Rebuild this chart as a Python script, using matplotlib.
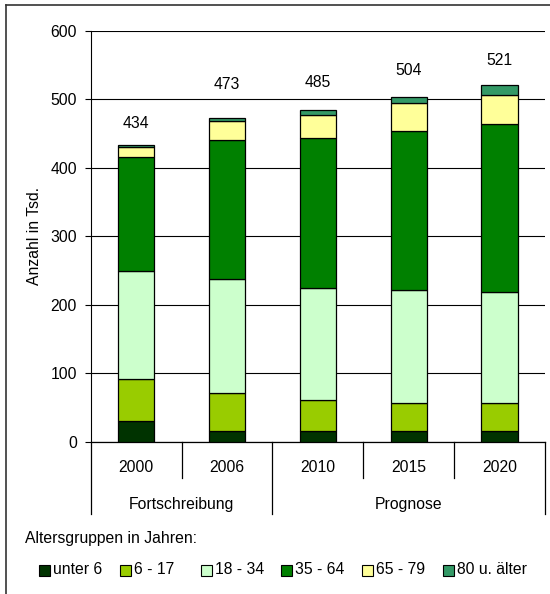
import matplotlib
matplotlib.use("Agg")
import matplotlib.pyplot as plt
from matplotlib.patches import Rectangle
from matplotlib.lines import Line2D
import matplotlib.transforms as mtransforms
import numpy as np

plt.rcParams['font.family'] = ['Liberation Sans', 'DejaVu Sans']
plt.rcParams['font.size'] = 11.3

years = ["2000", "2006", "2010", "2015", "2020"]
groups = ["Fortschreibung", "Prognose"]
age_groups = ["unter 6", "6 - 17", "18 - 34", "35 - 64", "65 - 79", "80 u. älter"]
unter6 = [30, 15, 16, 16, 16]
a6_17 = [61, 56, 45, 40, 40]
a18_34 = [158, 166, 164, 165, 163]
a35_64 = [167, 204, 219, 233, 245]
a65_79 = [15, 27, 34, 41, 43]
a80 = [3, 5, 7, 9, 14]
totals = [434, 473, 485, 504, 521]

series = [unter6, a6_17, a18_34, a35_64, a65_79, a80]
colors = ["#003300", "#99CC00", "#CCFFCC", "#008000", "#FFFF99", "#339966"]

W, H = 550, 594
fig = plt.figure(figsize=(5.5, 5.94), dpi=100)
ax = fig.add_axes([90.7 / W, 1 - 441.7 / H, (545 - 90.7) / W, (441.7 - 31) / H])

x = np.arange(len(years))
bottom = np.zeros(len(years))
for vals, col in zip(series, colors):
    ax.bar(x, vals, width=0.4, bottom=bottom, color=col, edgecolor="black",
           linewidth=0.9, zorder=3)
    bottom += np.array(vals)

label_offsets = [21, 33, 27, 26, 25]
for xi, t, top, off in zip(x, totals, bottom, label_offsets):
    ax.annotate(str(t), (xi, top), xytext=(0, off), textcoords="offset pixels",
                ha="center", va="center")

ax.set_xlim(-0.5, len(years) - 0.5)
ax.set_ylim(0, 600)
ax.set_yticks(range(0, 601, 100))
ax.yaxis.grid(True, color="black", linewidth=0.8, zorder=0)
ax.set_axisbelow(True)
for s in ["top", "right", "bottom"]:
    ax.spines[s].set_visible(False)
ax.spines["left"].set_linewidth(0.8)
ax.tick_params(axis="y", length=4, width=0.8, pad=6)
ax.set_xticks([])
ax.set_ylabel("Anzahl in Tsd.")
ax.yaxis.set_label_coords(-0.108, 0.5)

# x axis with category separators
trans = mtransforms.blended_transform_factory(ax.transData, fig.transFigure)
y0 = 1 - 441.7 / H
y_short = 1 - 478 / H
y_long = 1 - 514 / H
ax.plot([-0.5, len(years) - 0.5], [y0, y0], color="black", lw=0.9,
        transform=trans, clip_on=False)
for i in range(len(years) + 1):
    xs = i - 0.5
    ye = y_long if i in (0, 2, len(years)) else y_short
    ax.plot([xs, xs], [y0, ye], color="black", lw=0.9, transform=trans, clip_on=False)
for xi, yr in zip(x, years):
    ax.text(xi, 1 - 467 / H, yr, transform=trans, ha="center", va="center")
ax.text(0.5, 1 - 504 / H, groups[0], transform=trans, ha="center", va="center")
ax.text(3.0, 1 - 504 / H, groups[1], transform=trans, ha="center", va="center")

# figure border
fig.add_artist(Line2D([6 / W, 6 / W], [0, 1 - 5 / H], color="#333333", lw=1.2))
fig.add_artist(Line2D([6 / W, 1], [1 - 5 / H, 1 - 5 / H], color="#333333", lw=1.2))

# legend (drawn manually with equal column steps)
fig.text(25 / W, 1 - 539 / H, "Altersgruppen in Jahren:", ha="left", va="center")
leg_y = 570
box = 11
for i, (lab, col) in enumerate(zip(age_groups, colors)):
    px = 39 + i * 80.8
    fig.add_artist(Rectangle((px / W, 1 - (leg_y + box / 2) / H), box / W, box / H,
                             facecolor=col, edgecolor="black", linewidth=0.8,
                             transform=fig.transFigure))
    fig.text((px + box + 3) / W, 1 - leg_y / H, lab, ha="left", va="center")

fig.savefig("out.png", dpi=100)
